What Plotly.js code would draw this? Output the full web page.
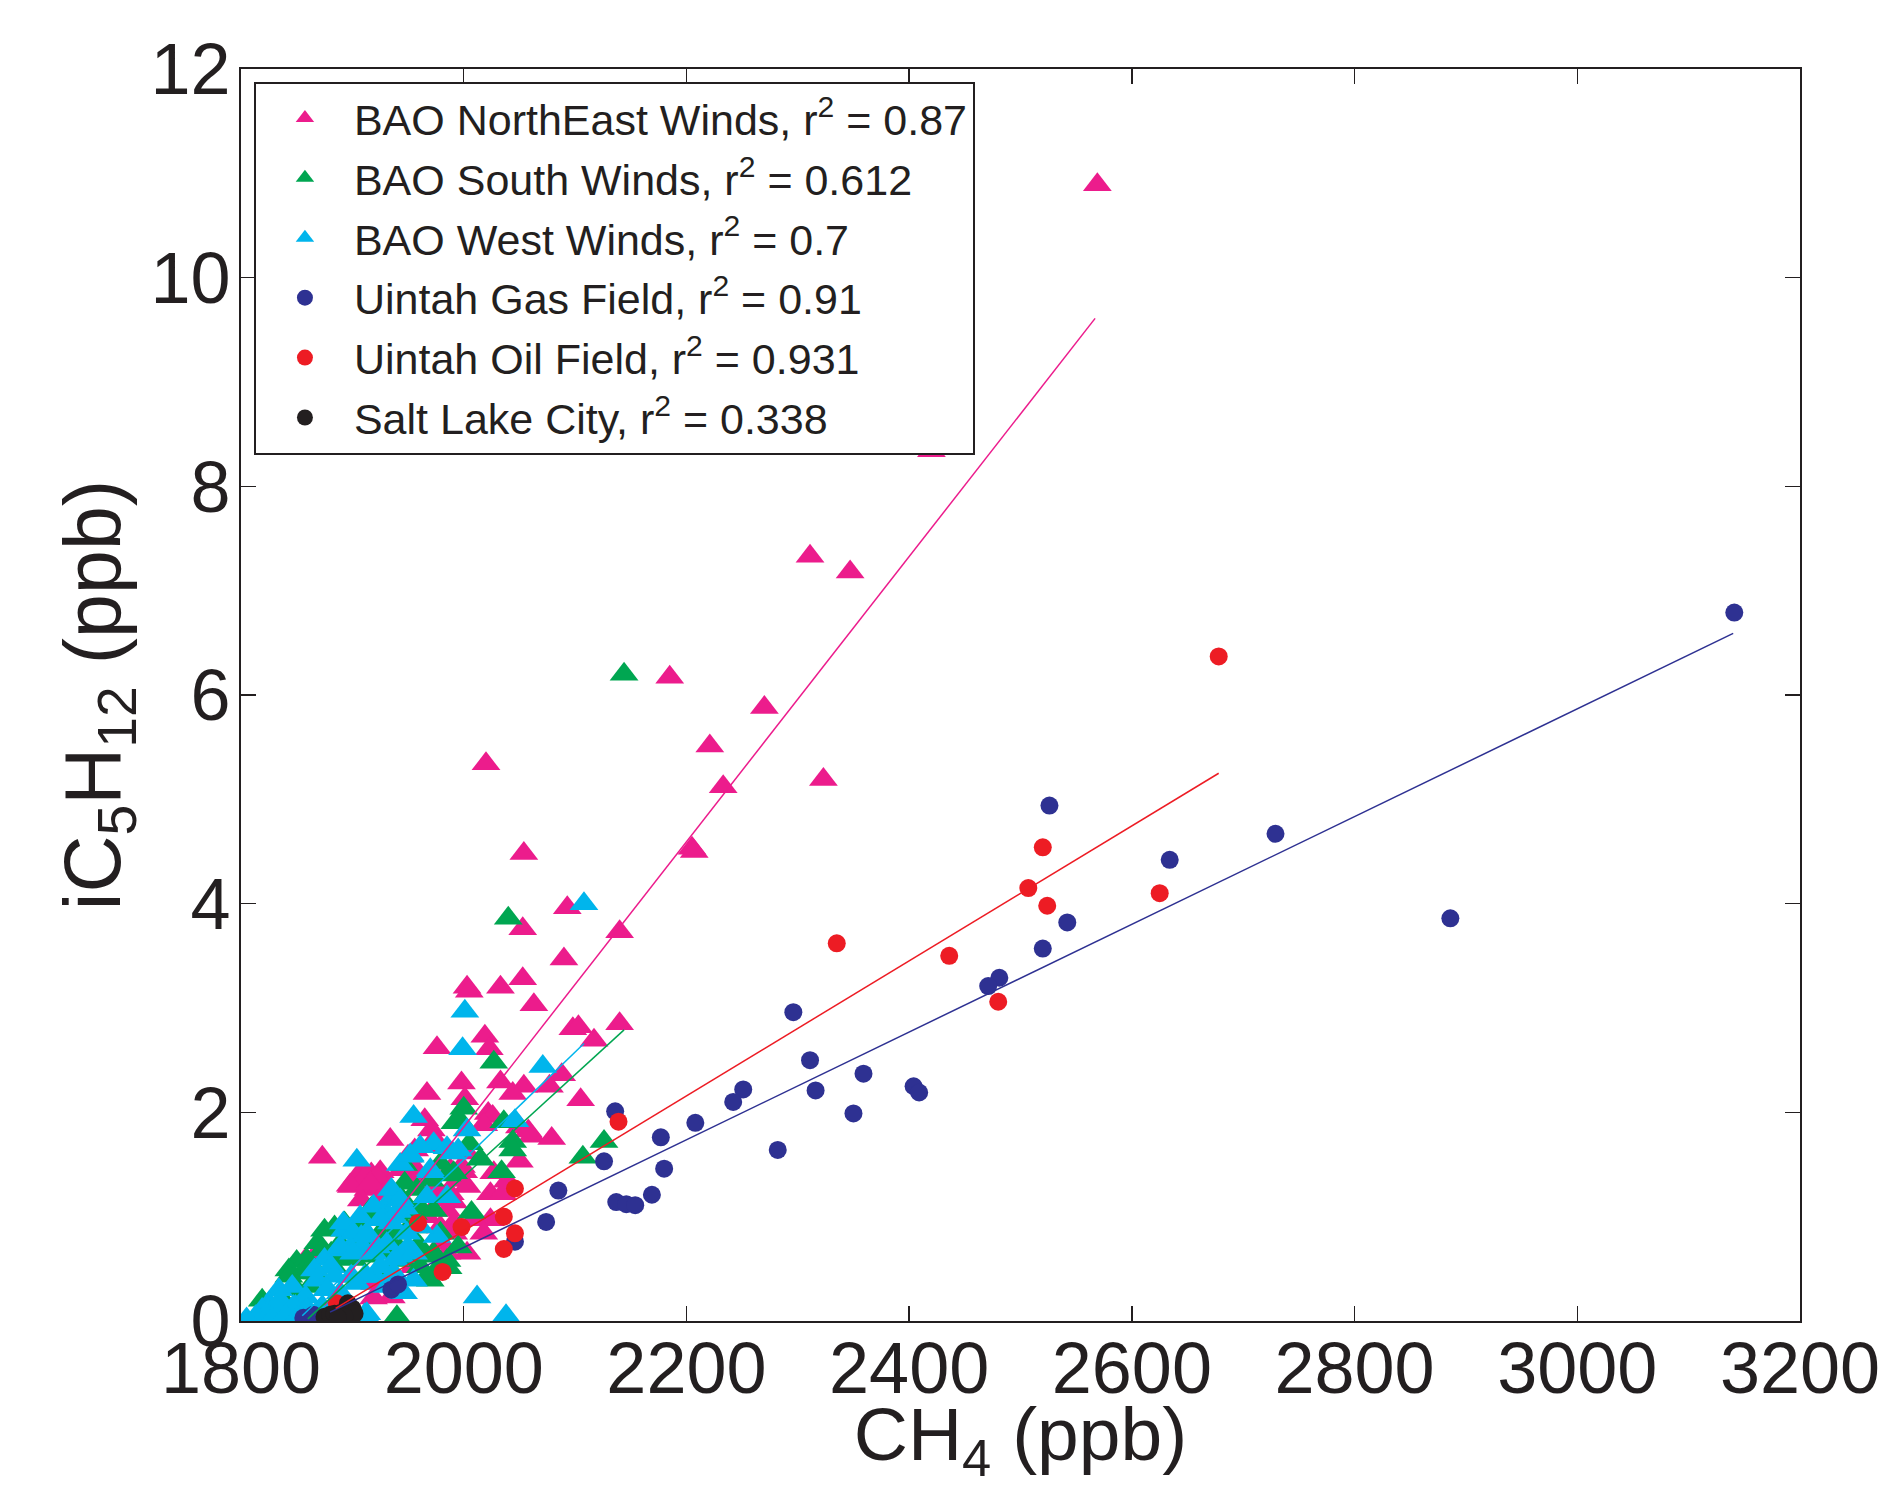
<!DOCTYPE html>
<html><head><meta charset="utf-8">
<script src="https://cdn.plot.ly/plotly-3.0.1.min.js"></script>
<style>html,body{margin:0;padding:0;background:#fff;}#chart{width:1896px;height:1487px;}</style>
</head><body><div id="chart"></div>
<script>
// [CH4 ppb, iC5H12 ppb]
const baoNorthEast = [[2569,10.89],[2420,8.34],[2311,7.33],[2347,7.18],[2185,6.17],[2270,5.88],[2221,5.51],[2020,5.34],[2233,5.12],[2323,5.19],[2205,4.53],[2207,4.50],[2054,4.48],[2093,3.96],[2053,3.76],[2140,3.73],[2090,3.47],[2053,3.28],[2003,3.20],[2005,3.16],[2033,3.20],[2063,3.03],[2098,2.80],[2103,2.82],[2140,2.85],[2117,2.69],[2019,2.73],[2023,2.61],[1976,2.62],[2088,2.36],[2077,2.25],[2054,2.25],[2044,2.18],[2033,2.29],[1998,2.28],[2001,2.13],[1967,2.18],[2105,2.12],[2061,1.77],[2079,1.75],[2050,1.86],[2058,1.82],[2022,1.99],[2026,1.96],[2018,1.88],[1965,1.93],[1971,1.83],[1934,1.74],[1873,1.57],[2050,1.53],[2027,1.42],[2024,1.22],[2035,1.22],[2000,1.43],[1994,1.35],[2039,1.34],[2003,1.29],[1997,1.35],[1988,1.22],[1973,1.29],[1982,1.19],[1961,1.35],[1946,1.51],[1950,1.58],[1956,1.64],[1979,1.67],[1998,1.48],[1988,1.45],[2024,0.97],[1991,0.94],[1991,0.84],[1935,0.23],[1919,0.22],[1920,0.36],[1907,1.41],[1917,1.41],[1925,1.43],[1917,1.35],[1926,1.38],[1908,1.34],[1899,1.29],[1914,1.26],[1926,1.29],[1908,1.16],[1920,1.11],[1905,0.90],[1928,1.22],[1944,1.45],[1953,1.38],[1858,0.59],[1866,0.62],[1875,0.62],[1980,0.75],[1973,1.73],[2003,1.61],[1955,1.48],[1973,1.26],[1979,1.16],[1991,1.14],[1985,1.06],[1967,1.00],[1979,0.90],[2009,0.97],[2018,0.84],[2003,0.65],[1985,0.65],[1955,0.52],[1904,1.38],[1913,1.40],[1922,1.38],[1898,1.30],[1916,1.32]];
const baoSouth = [[2144,6.20],[2040,3.86],[2027,2.48],[2000,2.04],[1996,1.93],[1992,1.90],[2036,1.91],[2044,1.72],[2044,1.64],[2034,1.43],[2126,1.72],[2107,1.57],[2007,1.04],[1995,0.71],[1986,0.51],[1970,0.39],[1946,1.50],[1944,1.18],[1949,0.87],[1940,0.04],[1965,0.62],[1961,0.71],[1977,0.51],[1850,0.57],[1859,0.59],[1843,0.49],[1855,0.46],[1864,0.52],[1875,0.87],[1884,0.90],[1893,0.94],[1917,1.08],[1920,1.00],[1947,1.32],[1920,0.71],[1914,0.62],[1819,0.20],[1815,0.02],[1869,0.75],[1873,0.68],[1881,0.65],[1843,0.43],[1932,0.49],[1889,0.74],[1913,0.71],[1925,0.84],[1919,0.97],[1931,1.00],[1943,0.68],[1958,0.71],[1979,0.84],[1967,0.43],[1895,0.60],[1905,0.95],[1910,0.80],[1935,0.75],[1955,0.90],[1960,1.10],[1985,1.40],[2005,1.70],[2015,1.55],[1958,1.26],[1970,1.35],[1979,1.51],[1991,1.42],[1973,1.06],[1955,1.03],[1937,0.84],[1931,0.65],[1949,0.58],[1961,0.52],[1973,0.65],[1985,0.58],[1901,0.59],[1883,0.52],[1868,0.46],[1862,0.33],[1850,0.30],[1838,0.20]];
const baoWest = [[2108,4.00],[2001,2.97],[1999,2.61],[2071,2.44],[1955,1.96],[2046,1.92],[2003,1.83],[1904,1.54],[1943,1.50],[1952,1.58],[1973,1.70],[1985,1.66],[1995,1.64],[1961,1.67],[1952,1.59],[1970,1.43],[1967,1.19],[1985,1.19],[1947,1.08],[1941,1.05],[1976,0.81],[1950,0.71],[2012,0.23],[2038,0.05],[1934,1.16],[1907,1.00],[1893,0.87],[1898,0.87],[1908,0.81],[1887,0.68],[1898,0.70],[1911,0.68],[1931,1.03],[1935,0.94],[1922,0.71],[1938,0.59],[1875,0.59],[1881,0.52],[1866,0.49],[1884,0.43],[1899,0.43],[1911,0.43],[1920,0.43],[1834,0.30],[1846,0.33],[1858,0.23],[1825,0.17],[1819,0.11],[1813,0.04],[1837,0.11],[1849,0.14],[1860,0.11],[1873,0.14],[1878,0.30],[1890,0.23],[1913,0.07],[1935,1.26],[1919,1.10],[1937,1.00],[1892,0.94],[1901,0.84],[1889,0.71],[1907,0.68],[1931,0.74],[1943,0.62],[1955,0.65],[1925,0.52],[1937,0.46],[1913,0.43],[1911,0.06],[1868,0.39],[1877,0.30],[1835,0.20],[1847,0.14],[1859,0.11],[1823,0.07],[1814,0.04],[1805,0.02],[1828,0.02],[1840,0.05],[1850,0.03],[1862,0.05],[1870,0.04],[1895,0.05],[1990,1.61],[1970,1.45],[1943,1.16],[1961,0.90],[1949,0.84],[1925,0.97],[1913,0.84],[1901,0.65],[1919,0.65],[1931,0.33],[1904,0.36],[1889,0.27],[1955,0.39],[1946,0.27]];
const uintahGas = [[3141,6.79],[2729,4.67],[2634,4.42],[2886,3.86],[2526,4.94],[2542,3.82],[2520,3.57],[2481,3.29],[2471,3.21],[2296,2.96],[2311,2.50],[2316,2.21],[2359,2.37],[2404,2.25],[2409,2.19],[2350,1.99],[2251,2.22],[2242,2.10],[2282,1.64],[2208,1.90],[2177,1.76],[2180,1.46],[2169,1.21],[2137,1.14],[2146,1.12],[2154,1.11],[2136,2.01],[2126,1.53],[2085,1.25],[2074,0.95],[2046,0.76],[1935,0.30],[1941,0.35],[1856,0.03],[1865,0.06]];
const uintahOil = [[2678,6.37],[2625,4.10],[2335,3.62],[2436,3.50],[2520,4.54],[2507,4.15],[2524,3.98],[2480,3.06],[2139,1.91],[2046,1.27],[2036,1.00],[2046,0.84],[2036,0.69],[1998,0.90],[1959,0.94],[1981,0.47],[1886,0.17]];
const saltLakeCity = [[1875,0.04],[1880,0.06],[1884,0.07],[1890,0.08],[1895,0.11],[1896,0.17],[1900,0.12],[1902,0.07],[1893,0.04],[1887,0.03]];
// fitted lines: [x0,y0],[x1,y1]
const fitNorthEast = [[1875,0.15],[2567,9.61]];
const fitSouth = [[1860,0.02],[2144,2.79]];
const fitWest = [[1855,0.05],[2108,2.66]];
const fitGas = [[1880,0.085],[3140,6.59]];
const fitOil = [[1885,0.12],[2678,5.25]];

const seriesNames = ['BAO NorthEast Winds, r<sup>2</sup> = 0.87','BAO South Winds, r<sup>2</sup> = 0.612','BAO West Winds, r<sup>2</sup> = 0.7','Uintah Gas Field, r<sup>2</sup> = 0.91','Uintah Oil Field, r<sup>2</sup> = 0.931','Salt Lake City, r<sup>2</sup> = 0.338'];
const xTicks = [1800,2000,2200,2400,2600,2800,3000,3200];
const yTicks = [0,2,4,6,8,10,12];

const colors = ['#ec1c8c','#00a651','#00b5ec','#2e3192','#ed1c24','#231f20'];
const symbols = ['triangle-up','triangle-up','triangle-up','circle','circle','circle'];
const sizes = [25,25,25,18,18,18];
const data = [baoNorthEast, baoSouth, baoWest, uintahGas, uintahOil, saltLakeCity];
const fits = [fitNorthEast, fitSouth, fitWest, fitGas, fitOil];
const FONT = '"Liberation Sans", Arial, Helvetica, sans-serif';
const ink = '#231f20';

const traces = data.map((d,i)=>({
  type:'scatter', mode:'markers', name:seriesNames[i], legendgroup:'g'+i,
  x:d.map(p=>p[0]), y:d.map(p=>p[1]),
  marker:{symbol:symbols[i], size:sizes[i], color:colors[i], line:{width:0}},
  cliponaxis:true
}));
fits.forEach((f,i)=>traces.push({
  type:'scatter', mode:'lines', showlegend:false, hoverinfo:'skip', legendgroup:'g'+i,
  x:f.map(p=>p[0]), y:f.map(p=>p[1]),
  line:{color:colors[i], width:1.5}
}));

const layout = {
  width:1896, height:1487,
  paper_bgcolor:'#fff', plot_bgcolor:'#fff',
  margin:{l:241, r:96, t:69, b:166},
  font:{family:FONT, color:ink},
  showlegend:true,
  xaxis:{range:[1800,3200], tickvals:xTicks, ticktext:xTicks.map(String),
    ticks:'inside', ticklen:15, tickwidth:1.5, tickcolor:ink, ticklabelstandoff:-16,
    showline:true, linecolor:ink, linewidth:2, mirror:'ticks',
    showgrid:false, zeroline:false, tickfont:{size:72, color:ink},
    title:{text:'CH<sub>4</sub> (ppb)', font:{size:75, color:ink}, standoff:24}, automargin:false},
  yaxis:{range:[0,12], tickvals:yTicks, ticktext:yTicks.map(String),
    ticks:'inside', ticklen:15, tickwidth:1.5, tickcolor:ink, ticklabelstandoff:-6,
    showline:true, linecolor:ink, linewidth:2, mirror:'ticks',
    showgrid:false, zeroline:false, tickfont:{size:72, color:ink},
    title:{text:'iC<sub>5</sub>H<sub>12</sub> (ppb)', font:{size:79, color:ink}, standoff:4}, automargin:false},
  legend:{x:0.0083, y:0.99, xanchor:'left', yanchor:'top', traceorder:'grouped',
    bgcolor:'#fff', bordercolor:ink, borderwidth:2,
    font:{size:43, color:ink, family:FONT}, itemwidth:88, tracegroupgap:1}
};
Plotly.newPlot('chart', traces, layout, {displayModeBar:false, staticPlot:true});
</script></body></html>
